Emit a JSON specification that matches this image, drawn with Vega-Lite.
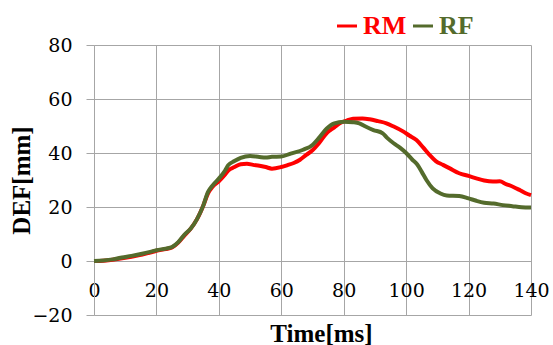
{
  "$schema": "https://vega.github.io/schema/vega-lite/v6.json",
  "width": 437,
  "height": 270,
  "autosize": {"type": "none"},
  "padding": {"left": 94, "top": 45, "right": 22, "bottom": 30},
  "background": "white",
  "config": {"view": {"stroke": null}},
  "data": {
    "values": [
      {"t": 0, "v": 0, "s": "RM"}, {"t": 3, "v": 0.1, "s": "RM"}, {"t": 6, "v": 0.5, "s": "RM"}, {"t": 9, "v": 1.0, "s": "RM"},
      {"t": 12, "v": 1.6, "s": "RM"}, {"t": 15, "v": 2.3, "s": "RM"}, {"t": 18, "v": 3.1, "s": "RM"}, {"t": 20, "v": 3.8, "s": "RM"},
      {"t": 23, "v": 4.4, "s": "RM"}, {"t": 25, "v": 5.0, "s": "RM"}, {"t": 27, "v": 6.8, "s": "RM"}, {"t": 29, "v": 9.5, "s": "RM"},
      {"t": 31, "v": 12, "s": "RM"}, {"t": 33, "v": 15.5, "s": "RM"}, {"t": 35, "v": 20.5, "s": "RM"}, {"t": 36.5, "v": 25, "s": "RM"},
      {"t": 38, "v": 27.5, "s": "RM"}, {"t": 40, "v": 29.5, "s": "RM"}, {"t": 42, "v": 32, "s": "RM"}, {"t": 43, "v": 33.5, "s": "RM"},
      {"t": 45, "v": 34.8, "s": "RM"}, {"t": 47, "v": 35.8, "s": "RM"}, {"t": 49, "v": 36, "s": "RM"}, {"t": 51, "v": 35.6, "s": "RM"},
      {"t": 53, "v": 35.3, "s": "RM"}, {"t": 55, "v": 34.8, "s": "RM"}, {"t": 57, "v": 34.2, "s": "RM"}, {"t": 60, "v": 34.8, "s": "RM"},
      {"t": 62, "v": 35.5, "s": "RM"}, {"t": 64, "v": 36.3, "s": "RM"}, {"t": 66, "v": 37.5, "s": "RM"}, {"t": 68, "v": 39.3, "s": "RM"},
      {"t": 70, "v": 41, "s": "RM"}, {"t": 72, "v": 43.5, "s": "RM"}, {"t": 74.5, "v": 47.3, "s": "RM"}, {"t": 77, "v": 49.5, "s": "RM"},
      {"t": 78.7, "v": 51, "s": "RM"}, {"t": 81, "v": 52, "s": "RM"}, {"t": 83, "v": 52.7, "s": "RM"}, {"t": 86, "v": 52.8, "s": "RM"},
      {"t": 88.3, "v": 52.5, "s": "RM"}, {"t": 91, "v": 51.8, "s": "RM"}, {"t": 93.7, "v": 51, "s": "RM"}, {"t": 96, "v": 49.8, "s": "RM"},
      {"t": 99, "v": 48, "s": "RM"}, {"t": 101, "v": 46.5, "s": "RM"}, {"t": 103.3, "v": 44.8, "s": "RM"}, {"t": 105.5, "v": 42, "s": "RM"},
      {"t": 107.5, "v": 39.3, "s": "RM"}, {"t": 109.5, "v": 37, "s": "RM"}, {"t": 111.8, "v": 35.6, "s": "RM"}, {"t": 114, "v": 34.3, "s": "RM"},
      {"t": 117, "v": 32.5, "s": "RM"}, {"t": 120, "v": 31.5, "s": "RM"}, {"t": 122.5, "v": 30.6, "s": "RM"}, {"t": 125, "v": 29.8, "s": "RM"},
      {"t": 127.8, "v": 29.4, "s": "RM"}, {"t": 130, "v": 29.5, "s": "RM"}, {"t": 132, "v": 28.5, "s": "RM"}, {"t": 134.2, "v": 27.5, "s": "RM"},
      {"t": 136.5, "v": 26.2, "s": "RM"}, {"t": 138.5, "v": 25, "s": "RM"}, {"t": 140, "v": 24.4, "s": "RM"},
      {"t": 0, "v": 0, "s": "RF"}, {"t": 3, "v": 0.2, "s": "RF"}, {"t": 6, "v": 0.6, "s": "RF"}, {"t": 9, "v": 1.3, "s": "RF"},
      {"t": 12, "v": 1.9, "s": "RF"}, {"t": 15, "v": 2.6, "s": "RF"}, {"t": 18, "v": 3.4, "s": "RF"}, {"t": 20, "v": 4.0, "s": "RF"},
      {"t": 23, "v": 4.6, "s": "RF"}, {"t": 25, "v": 5.2, "s": "RF"}, {"t": 27, "v": 7, "s": "RF"}, {"t": 29, "v": 9.8, "s": "RF"},
      {"t": 31, "v": 12, "s": "RF"}, {"t": 33, "v": 15.5, "s": "RF"}, {"t": 35, "v": 20.5, "s": "RF"}, {"t": 36.5, "v": 25.5, "s": "RF"},
      {"t": 38, "v": 28, "s": "RF"}, {"t": 40, "v": 30.5, "s": "RF"}, {"t": 42, "v": 33.5, "s": "RF"}, {"t": 43, "v": 35.5, "s": "RF"},
      {"t": 45, "v": 37, "s": "RF"}, {"t": 47, "v": 38.2, "s": "RF"}, {"t": 50, "v": 38.9, "s": "RF"}, {"t": 53, "v": 38.5, "s": "RF"},
      {"t": 55, "v": 38.3, "s": "RF"}, {"t": 57, "v": 38.6, "s": "RF"}, {"t": 60, "v": 38.7, "s": "RF"}, {"t": 63, "v": 39.8, "s": "RF"},
      {"t": 67, "v": 41.2, "s": "RF"}, {"t": 70, "v": 43, "s": "RF"}, {"t": 72, "v": 45.5, "s": "RF"}, {"t": 74.5, "v": 49, "s": "RF"},
      {"t": 77, "v": 51, "s": "RF"}, {"t": 80, "v": 51.6, "s": "RF"}, {"t": 83, "v": 51.4, "s": "RF"}, {"t": 85, "v": 51, "s": "RF"},
      {"t": 87, "v": 49.8, "s": "RF"}, {"t": 89.5, "v": 48.5, "s": "RF"}, {"t": 92.5, "v": 47.3, "s": "RF"}, {"t": 94, "v": 45.5, "s": "RF"},
      {"t": 96, "v": 43.6, "s": "RF"}, {"t": 98, "v": 42, "s": "RF"}, {"t": 100, "v": 40, "s": "RF"}, {"t": 102, "v": 37.5, "s": "RF"},
      {"t": 103.5, "v": 35.8, "s": "RF"}, {"t": 105, "v": 33, "s": "RF"}, {"t": 106.5, "v": 30, "s": "RF"}, {"t": 108.5, "v": 26.9, "s": "RF"},
      {"t": 111, "v": 25, "s": "RF"}, {"t": 113, "v": 24.3, "s": "RF"}, {"t": 117, "v": 24.1, "s": "RF"}, {"t": 120, "v": 23.2, "s": "RF"},
      {"t": 122.5, "v": 22.3, "s": "RF"}, {"t": 125, "v": 21.6, "s": "RF"}, {"t": 128, "v": 21.3, "s": "RF"}, {"t": 131, "v": 20.7, "s": "RF"},
      {"t": 134, "v": 20.3, "s": "RF"}, {"t": 137, "v": 19.9, "s": "RF"}, {"t": 140, "v": 19.8, "s": "RF"}
    ]
  },
  "mark": {"type": "line", "strokeWidth": 4, "interpolate": "monotone"},
  "encoding": {
    "x": {
      "field": "t", "type": "quantitative",
      "scale": {"domain": [0, 140], "nice": false},
      "axis": {
        "values": [0, 20, 40, 60, 80, 100, 120, 140],
        "grid": true, "gridColor": "#A6A6A6", "gridWidth": 1,
        "domainColor": "#A6A6A6", "ticks": false, "offset": -54,
        "labelFont": "DejaVu Serif", "labelFontSize": 19, "labelColor": "#000000", "labelPadding": 20,
        "labelFlush": false, "labelOverlap": false,
        "title": "Time[ms]", "titleFont": "Liberation Serif", "titleFontSize": 25, "titleFontWeight": "bold", "titleColor": "#000000",
        "titleX": 227, "titleY": 80, "titleBaseline": "alphabetic"
      }
    },
    "y": {
      "field": "v", "type": "quantitative",
      "scale": {"domain": [-20, 80], "nice": false},
      "axis": {
        "values": [-20, 0, 20, 40, 60, 80],
        "grid": true, "gridColor": "#A6A6A6", "gridWidth": 1,
        "domainColor": "#A6A6A6", "tickColor": "#A6A6A6", "tickSize": 8,
        "labelFont": "DejaVu Serif", "labelFontSize": 19, "labelColor": "#000000", "labelPadding": 14, "labelOverlap": false,
        "title": "DEF[mm]", "titleFont": "Liberation Serif", "titleFontSize": 25, "titleFontWeight": "bold", "titleColor": "#000000",
        "titleX": -60, "titleY": 135
      }
    },
    "color": {
      "field": "s", "type": "nominal",
      "scale": {"domain": ["RM", "RF"], "range": ["#FF0000", "#546B2C"]},
      "legend": {
        "orient": "none", "legendX": 240, "legendY": -32, "direction": "horizontal",
        "title": null, "symbolType": "stroke", "symbolSize": 400, "symbolStrokeWidth": 3,
        "labelFont": "Liberation Serif", "labelFontSize": 26, "labelFontWeight": "bold", "labelOffset": 3, "columnPadding": 0, "padding": 0,
        "encode": {"labels": {"update": {"fill": {"signal": "datum.value === 'RM' ? '#FF0000' : '#546B2C'"}}}}
      }
    }
  }
}
